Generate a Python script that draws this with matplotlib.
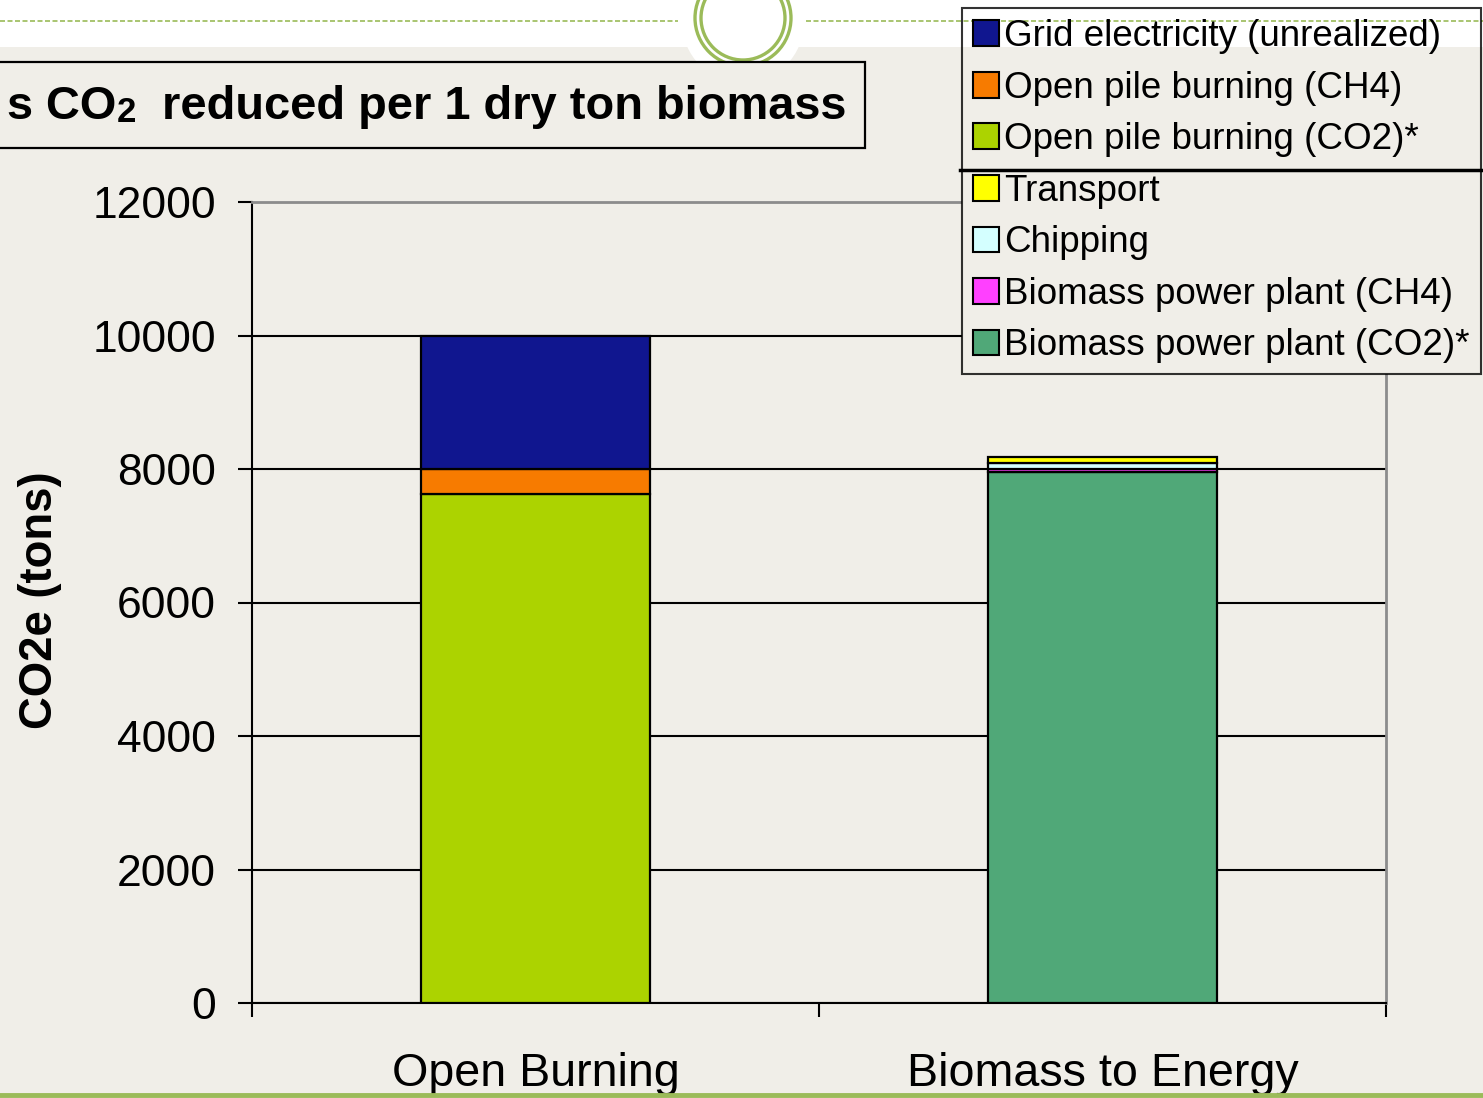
import matplotlib
matplotlib.use("Agg")
import matplotlib.pyplot as plt
import numpy as np
from matplotlib import font_manager
from matplotlib.patches import Rectangle, Ellipse, Patch
from matplotlib.lines import Line2D
from matplotlib.transforms import IdentityTransform

# ---- data -------------------------------------------------------------
categories = ["Open Burning", "Biomass to Energy"]

# stack order, bottom -> top
series_names = ["Biomass power plant (CO2)*", "Biomass power plant (CH4)", "Chipping",
                "Transport", "Open pile burning (CO2)*", "Open pile burning (CH4)",
                "Grid electricity (unrealized)"]
bio_co2 = [0, 7960]
bio_ch4 = [0, 40]
chipping = [0, 90]
transport = [0, 90]
open_co2 = [7620, 0]
open_ch4 = [380, 0]
grid_elec = [2000, 0]
series_values = [bio_co2, bio_ch4, chipping, transport, open_co2, open_ch4, grid_elec]
series_colors = ["#50A878", "#FF40FF", "#D4FFFF", "#FFFF00", "#ACD300", "#F77B00", "#10168F"]

yticks = [0, 2000, 4000, 6000, 8000, 10000, 12000]
title_parts = ["s CO", "2", "  reduced per 1 dry ton biomass"]
ylabel = "CO2e (tons)"

# ---- style ------------------------------------------------------------
W, H = 1483, 1098
BEIGE = "#F0EEE8"
OLIVE = "#9BBB59"

plt.rcParams["font.family"] = ["Liberation Sans", "DejaVu Sans"]
names = {f.name for f in font_manager.fontManager.ttflist}
if "Liberation Sans Narrow" in names:
    narrow = ["Liberation Sans Narrow", "Liberation Sans", "DejaVu Sans"]
    k = 1.0
else:
    narrow = ["Liberation Sans", "DejaVu Sans"]
    k = 0.82

fig = plt.figure(figsize=(W / 100, H / 100), dpi=100, facecolor=BEIGE)

# slide background decoration (pixel coordinates)
bg = fig.add_axes([0, 0, 1, 1], zorder=-1)
bg.set_xlim(0, W)
bg.set_ylim(H, 0)
bg.axis("off")
bg.add_patch(Rectangle((0, 0), W, 47, facecolor="white", edgecolor="none"))
bg.add_patch(Ellipse((743, 22), 122, 122, facecolor="white", edgecolor="none"))
bg.add_patch(Ellipse((743, 18), 96, 96, facecolor="none", edgecolor=OLIVE, lw=2.4))
bg.add_patch(Ellipse((743, 18), 84, 84, facecolor="none", edgecolor=OLIVE, lw=2.4))
bg.plot([0, 678], [21, 21], color=OLIVE, lw=1.2, dashes=(3, 1.5))
bg.plot([806, W], [21, 21], color=OLIVE, lw=1.2, dashes=(3, 1.5))

# title box
bg.add_patch(Rectangle((-10, 62), 875, 86, facecolor=BEIGE, edgecolor="black", lw=1.6))
t1 = bg.text(846, 129, title_parts[2], ha="right", va="bottom", fontsize=41.3 * k,
             fontweight="bold", family=narrow)
t2 = bg.annotate(title_parts[1], xy=(0, 0), xycoords=t1, ha="right", va="bottom",
                 fontsize=30.5 * k, fontweight="bold", family=narrow)
t3 = bg.annotate(title_parts[0], xy=(0, 0), xycoords=t2, ha="right", va="bottom",
                 fontsize=41.3 * k, fontweight="bold", family=narrow)

# ---- chart ------------------------------------------------------------
ax = fig.add_axes([252 / W, 1 - 1003 / H, 1134 / W, 801 / H])
ax.set_facecolor("none")

x = np.arange(len(categories)) + 0.5
bottom = np.zeros(len(categories))
handles = []
for name, vals, col in zip(series_names, series_values, series_colors):
    vals = np.array(vals, dtype=float)
    m = vals > 0
    ax.bar(x[m], vals[m], bottom=bottom[m], width=0.404, color=col,
           edgecolor="black", linewidth=1.6, zorder=3)
    bottom += vals
    handles.append(Patch(facecolor=col, edgecolor="black", linewidth=1.5, label=name))

ax.set_xlim(0, len(categories))
ax.set_ylim(0, 12000)
ax.set_yticks(yticks)
ax.set_yticklabels([str(v) for v in yticks], fontsize=39 * k, family=narrow)
ax.tick_params(axis="y", direction="out", length=10, width=1.5, pad=16)

ax.set_xticks([0, 1, 2])
ax.set_xticklabels([])
ax.set_xticks(x, minor=True)
ax.set_xticklabels(categories, minor=True, fontsize=41 * k, family=narrow)
ax.tick_params(axis="x", which="major", direction="out", length=10, width=1.5)
ax.tick_params(axis="x", which="minor", length=0, pad=35)

ax.set_axisbelow(True)
ax.yaxis.grid(True, color="black", lw=1.5)
for s in ["left", "bottom"]:
    ax.spines[s].set_linewidth(1.5)
for s in ["top", "right"]:
    ax.spines[s].set_color("#8C8C8C")
    ax.spines[s].set_linewidth(2)

fig.text(40 / W, 1 - 600 / H, ylabel, rotation=90, ha="center", va="center",
         fontsize=40 * k, fontweight="bold", family=narrow)

# legend (top entry = top of stack)
leg = ax.legend(handles[::-1], series_names[::-1], loc="upper left",
                bbox_to_anchor=(962 / W, 1 - 8 / H), bbox_transform=fig.transFigure,
                fontsize=26.5, frameon=True, fancybox=False, borderaxespad=0,
                borderpad=0.3, labelspacing=0.45, handlelength=0.7, handleheight=0.7,
                handletextpad=0.15, edgecolor="black", facecolor="none", framealpha=None)
leg.get_frame().set_linewidth(1.5)
leg.set_zorder(6)

# hide the plot lines behind the legend below the white strip
fig.canvas.draw()
bb = leg.get_window_extent()
cover = Rectangle((bb.x0, bb.y0), bb.width, (H - 47) - bb.y0, transform=IdentityTransform(),
                  facecolor=BEIGE, edgecolor="none", zorder=4, clip_on=False)
ax.add_artist(cover)

# slide lines on top
fig.add_artist(Line2D([960 / W, 1], [1 - 170 / H, 1 - 170 / H], transform=fig.transFigure,
                      color="black", lw=2.5, zorder=5))
fig.add_artist(Line2D([0, 1], [1 - 1095 / H, 1 - 1095 / H], transform=fig.transFigure,
                      color=OLIVE, lw=3.5, zorder=5))

fig.savefig("out.png", dpi=100, facecolor=BEIGE)
